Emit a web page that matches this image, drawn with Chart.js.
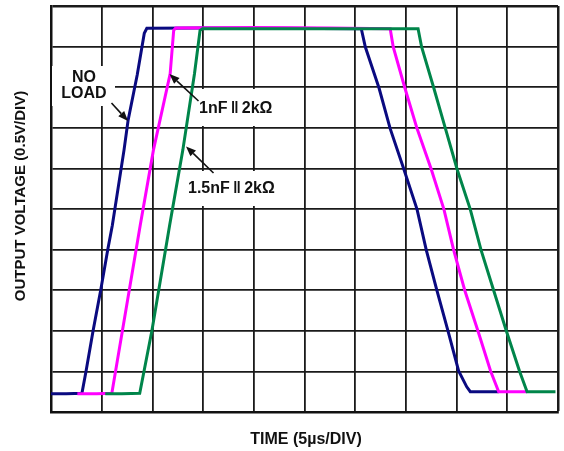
<!DOCTYPE html>
<html>
<head>
<meta charset="utf-8">
<script src="https://cdn.jsdelivr.net/npm/chart.js@4.4.0/dist/chart.umd.min.js"></script>
<style>
    html, body { margin: 0; padding: 0; background: #fff; }
    #wrap { width: 564px; height: 451px; }
</style>
</head>
<body>
<div id="wrap"><canvas id="chartScope"></canvas></div>
<script>
// scope trace, units are grid divisions (x: 5us/div, y: 0.5V/div)
const noLoadX = [0, 0.3, 0.61, 0.69, 0.83, 0.98, 1.12, 1.21, 1.44, 1.52, 1.7, 1.84, 1.89, 3, 4.5, 6.12, 6.2, 6.47, 6.69, 6.96, 7.22, 7.4, 7.61, 7.83, 8.04, 8.2, 8.27, 8.83]
const noLoadY = [0.45, 0.45, 0.46, 1.0, 2.0, 3.0, 4.0, 4.6, 6.45, 7.18, 8.3, 9.33, 9.45, 9.46, 9.45, 9.44, 8.99, 7.98, 6.98, 5.98, 4.99, 4.0, 3.0, 2.0, 1.01, 0.62, 0.5, 0.5]

const load1X = [0.52, 0.9, 1.2, 1.76, 2.02, 2.35, 2.42, 2.46, 4, 5.5, 6.69, 6.75, 6.98, 7.22, 7.5, 7.75, 7.94, 8.16, 8.42, 8.67, 8.83, 9.39]
const load1Y = [0.45, 0.45, 0.46, 4.6, 6.45, 8.33, 9.4, 9.46, 9.47, 9.46, 9.44, 8.99, 7.98, 6.98, 5.98, 4.99, 4.0, 3.0, 2.0, 1.01, 0.5, 0.5]

const load2X = [1.07, 1.4, 1.75, 1.99, 2.34, 2.6, 2.83, 2.94, 2.99, 4.5, 6, 7.24, 7.31, 7.55, 7.78, 8.01, 8.27, 8.48, 8.73, 8.98, 9.24, 9.39, 9.7, 9.95]
const load2Y = [0.45, 0.45, 0.46, 2.0, 4.6, 6.45, 8.33, 9.4, 9.44, 9.44, 9.44, 9.44, 8.99, 7.98, 6.98, 5.98, 4.99, 4.0, 3.0, 2.0, 1.01, 0.5, 0.5, 0.5]

const divTicks = [0, 1, 2, 3, 4, 5, 6, 7, 8, 9, 10]

const xTitle = 'TIME (5µs/DIV)'
const yTitle = 'OUTPUT VOLTAGE (0.5V/DIV)'

function toPoints(xs, ys) {
    let pts = []
    xs.forEach(function (x, i) {
        pts.push({ x: x, y: ys[i] })
    })
    return pts
}

// white label boxes, text and arrows drawn over the grid
const labelPlugin = {
    id: 'scopeLabels',
    afterDatasetsDraw: function (chart) {
        let ctx = chart.ctx
        ctx.save()

        ctx.fillStyle = '#fff'
        ctx.fillRect(52, 66, 63, 40)
        ctx.fillRect(196, 89, 80, 37)
        ctx.fillRect(185, 171, 93, 35)

        ctx.fillStyle = '#111'
        ctx.font = 'bold 16px "Liberation Sans", Arial, sans-serif'
        ctx.textBaseline = 'middle'
        ctx.textAlign = 'center'
        ctx.fillText('NO', 84, 78)
        ctx.fillText('LOAD', 84, 94)
        ctx.textAlign = 'left'
        ctx.fillText('1nF\u2009‖\u20092kΩ', 199, 108.5)
        ctx.fillText('1.5nF\u2009‖\u20092kΩ', 188, 188.5)

        arrow(ctx, 111.5, 103, 128, 121)
        arrow(ctx, 198.5, 101, 169.5, 74)
        arrow(ctx, 213.5, 173, 186, 146.5)

        // axis titles
        ctx.textAlign = 'center'
        ctx.font = 'bold 16px "Liberation Sans", Arial, sans-serif'
        ctx.fillText(xTitle, 306, 440)
        ctx.translate(20.5, 196)
        ctx.rotate(-Math.PI / 2)
        ctx.font = 'bold 15px "Liberation Sans", Arial, sans-serif'
        ctx.fillText(yTitle, 0, 0)

        ctx.restore()
    }
}

function arrow(ctx, x1, y1, x2, y2) {
    let ang = Math.atan2(y2 - y1, x2 - x1)
    let len = 10, half = 4
    let bx = x2 - len * Math.cos(ang), by = y2 - len * Math.sin(ang)
    ctx.strokeStyle = '#111'
    ctx.lineWidth = 1.6
    ctx.beginPath()
    ctx.moveTo(x1, y1)
    ctx.lineTo(bx, by)
    ctx.stroke()
    ctx.beginPath()
    ctx.moveTo(x2, y2)
    ctx.lineTo(bx + half * Math.sin(ang), by - half * Math.cos(ang))
    ctx.lineTo(bx - half * Math.sin(ang), by + half * Math.cos(ang))
    ctx.closePath()
    ctx.fill()
}

function gridWidth(context) {
    return (context.tick && context.tick.value == 10) ? 2.5 : 1.8
}

new Chart(document.getElementById('chartScope'), {
    type: 'scatter',
    data: {
        datasets: [{
            label: '1.5nF‖2kΩ',
            data: toPoints(load2X, load2Y),
            borderColor: '#00854a',
            borderWidth: 3,
            showLine: true,
            pointRadius: 0,
            tension: 0
        }, {
            label: '1nF‖2kΩ',
            data: toPoints(load1X, load1Y),
            borderColor: '#ff00ff',
            borderWidth: 3,
            showLine: true,
            pointRadius: 0,
            tension: 0
        }, {
            label: 'NO LOAD',
            data: toPoints(noLoadX, noLoadY),
            borderColor: '#0a0a80',
            borderWidth: 3,
            showLine: true,
            pointRadius: 0,
            tension: 0
        }]
    },
    options: {
        responsive: true,
        maintainAspectRatio: false,
        animation: false,
        layout: {
            padding: { left: 51, right: 6, top: 6, bottom: 39 }
        },
        plugins: {
            legend: { display: false },
            tooltip: { enabled: false }
        },
        scales: {
            x: {
                type: 'linear',
                min: 0,
                max: 10,
                afterBuildTicks: function (axis) {
                    axis.ticks = divTicks.map(function (v) { return { value: v } })
                },
                ticks: { display: false },
                grid: { color: '#1a1a1a', lineWidth: gridWidth, drawTicks: false },
                border: { color: '#111', width: 2.5 }
            },
            y: {
                type: 'linear',
                min: 0,
                max: 10,
                afterBuildTicks: function (axis) {
                    axis.ticks = divTicks.map(function (v) { return { value: v } })
                },
                ticks: { display: false },
                grid: { color: '#1a1a1a', lineWidth: gridWidth, drawTicks: false },
                border: { color: '#111', width: 2.5 }
            }
        }
    },
    plugins: [labelPlugin]
})
</script>
</body>
</html>
